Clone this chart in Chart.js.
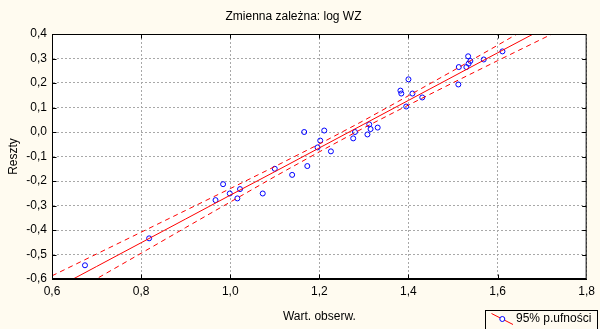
<!DOCTYPE html>
<html>
<head>
<meta charset="utf-8">
<script src="https://cdn.jsdelivr.net/npm/chart.js@4.4.1/dist/chart.umd.min.js"></script>
<style>
  html, body { margin: 0; padding: 0; background: #FFFBF0; }
  #wrap { width: 600px; height: 329px; }
</style>
</head>
<body>
<div id="wrap"><canvas id="c" width="600" height="329"></canvas></div>
<script>
// Observed values (x) and residuals (y)
const observed = [0.674, 0.818, 0.967, 0.984, 0.999, 1.016, 1.022, 1.073, 1.100, 1.139,
                  1.166, 1.173, 1.196, 1.202, 1.211, 1.226, 1.276, 1.280, 1.308, 1.312,
                  1.315, 1.331, 1.382, 1.384, 1.395, 1.400, 1.409, 1.431, 1.512, 1.513,
                  1.530, 1.534, 1.535, 1.539, 1.569, 1.611];
const residuals = [-0.544, -0.434, -0.278, -0.213, -0.251, -0.271, -0.233, -0.251, -0.150, -0.175,
                   0.000, -0.139, -0.063, -0.035, 0.006, -0.079, -0.026, 0.000, -0.010, 0.031,
                   0.012, 0.018, 0.169, 0.157, 0.104, 0.215, 0.157, 0.141, 0.194, 0.265,
                   0.265, 0.309, 0.279, 0.290, 0.296, 0.329];

// Fitted line and 95% confidence limits at sample positions
const fitX    = [0.6, 0.7, 0.8, 0.9, 1.0, 1.1, 1.2, 1.3, 1.4, 1.5, 1.6, 1.7, 1.8];
const fitLine = [-0.646, -0.549, -0.452, -0.355, -0.258, -0.162, -0.065, 0.032, 0.129, 0.226, 0.323, 0.419, 0.516];
const upper95 = [-0.587, -0.498, -0.409, -0.320, -0.231, -0.141, -0.049, 0.047, 0.148, 0.250, 0.354, 0.459, 0.564];
const lower95 = [-0.704, -0.599, -0.495, -0.390, -0.286, -0.182, -0.081, 0.017, 0.110, 0.201, 0.291, 0.380, 0.469];

// Axis ticks
const xTicks = [0.6, 0.8, 1.0, 1.2, 1.4, 1.6, 1.8];
const xTickLabels = ['0,6', '0,8', '1,0', '1,2', '1,4', '1,6', '1,8'];
const yTicks = [-0.6, -0.5, -0.4, -0.3, -0.2, -0.1, 0.0, 0.1, 0.2, 0.3, 0.4];
const yTickLabels = ['-0,6', '-0,5', '-0,4', '-0,3', '-0,2', '-0,1', '0,0', '0,1', '0,2', '0,3', '0,4'];

const titleText = 'Zmienna zależna: log WZ';
const xTitle = 'Wart. obserw.';
const yTitle = 'Reszty';
const legendText = '95% p.ufności';

const FONT = "'Liberation Sans', Arial, sans-serif";
Chart.defaults.font.family = FONT;
Chart.defaults.color = '#000';

const pts = (xs, ys) => xs.map((x, i) => ({ x: x, y: ys[i] }));

// Background: cream page, white plotting area
const backgroundPlugin = {
  id: 'bg',
  beforeDraw(chart) {
    const { ctx, chartArea: a } = chart;
    ctx.save();
    ctx.fillStyle = '#FFFBF0';
    ctx.fillRect(0, 0, chart.width, chart.height);
    ctx.fillStyle = '#FFFFFF';
    ctx.fillRect(a.left, a.top, a.right - a.left, a.bottom - a.top);
    ctx.restore();
  }
};

// Frame round the plot with short inward tick marks on all four sides
const framePlugin = {
  id: 'frame',
  afterDatasetsDraw(chart) {
    const { ctx, chartArea: a, scales } = chart;
    const L = a.left + 0.5, R = a.right - 0.5, T = a.top + 0.5, B = a.bottom - 0.5;
    ctx.save();
    ctx.strokeStyle = '#000';
    ctx.lineWidth = 1;
    ctx.beginPath();
    xTicks.forEach(v => {
      const px = Math.round(scales.x.getPixelForValue(v)) + 0.5;
      if (px <= L + 1 || px >= R - 1) return;
      ctx.moveTo(px, B); ctx.lineTo(px, B - 4);
      ctx.moveTo(px, T); ctx.lineTo(px, T + 4);
    });
    yTicks.forEach(v => {
      const py = Math.round(scales.y.getPixelForValue(v)) + 0.5;
      if (py <= T + 1 || py >= B - 1) return;
      ctx.moveTo(L, py); ctx.lineTo(L + 4, py);
      ctx.moveTo(R, py); ctx.lineTo(R - 4, py);
    });
    ctx.stroke();
    ctx.strokeRect(L, T, R - L, B - T);
    ctx.restore();
  }
};

// Legend box in the lower right corner
const legendPlugin = {
  id: 'boxLegend',
  afterDraw(chart) {
    const { ctx } = chart;
    ctx.save();
    ctx.fillStyle = '#FFFBF0';
    ctx.fillRect(485.5, 310.5, 112, 30);
    ctx.strokeStyle = '#000';
    ctx.lineWidth = 1;
    ctx.strokeRect(485.5, 310.5, 112, 30);
    ctx.strokeStyle = '#FF0000';
    ctx.beginPath();
    ctx.moveTo(491.5, 313.5);
    ctx.lineTo(513, 324.5);
    ctx.stroke();
    ctx.strokeStyle = '#0000FF';
    ctx.fillStyle = '#FFFFFF';
    ctx.beginPath();
    ctx.arc(502.3, 319, 2.5, 0, Math.PI * 2);
    ctx.fill();
    ctx.stroke();
    ctx.fillStyle = '#000';
    ctx.font = '12px ' + FONT;
    ctx.textBaseline = 'middle';
    ctx.textAlign = 'left';
    ctx.fillText(legendText, 516, 318.5);
    ctx.restore();
  }
};

const gridOpts = { color: '#A8A8A8', lineWidth: 1, drawTicks: false };

new Chart(document.getElementById('c'), {
  type: 'scatter',
  data: {
    datasets: [
      {
        type: 'line', data: pts(fitX, fitLine), borderColor: '#FF0000', borderWidth: 1,
        pointRadius: 0, tension: 0, fill: false, order: 0
      },
      {
        type: 'line', data: pts(fitX, upper95), borderColor: '#FF0000', borderWidth: 1,
        borderDash: [5, 4], pointRadius: 0, tension: 0, fill: false, order: 0
      },
      {
        type: 'line', data: pts(fitX, lower95), borderColor: '#FF0000', borderWidth: 1,
        borderDash: [5, 4], pointRadius: 0, tension: 0, fill: false, order: 0
      },
      {
        data: pts(observed, residuals), pointStyle: 'circle', pointRadius: 2.5,
        borderColor: '#0000FF', backgroundColor: 'rgba(0,0,0,0)', borderWidth: 1,
        pointHoverRadius: 2.5, order: 1
      }
    ]
  },
  options: {
    responsive: false,
    animation: false,
    devicePixelRatio: 1,
    layout: { padding: { left: 0, right: 13, top: 0, bottom: 0 } },
    plugins: {
      legend: { display: false },
      tooltip: { enabled: false },
      title: {
        display: true, text: titleText, color: '#000',
        font: { size: 12, weight: 'normal' },
        padding: { top: 9, bottom: 10.6 }
      }
    },
    scales: {
      x: {
        type: 'linear', min: 0.6, max: 1.8,
        afterBuildTicks: s => { s.ticks = xTicks.map(v => ({ value: v })); },
        afterFit: s => { s.height = 50; },
        ticks: {
          callback: (v, i) => xTickLabels[i], autoSkip: false, maxRotation: 0,
          font: { size: 12 }, color: '#000', padding: 5
        },
        grid: gridOpts,
        border: { display: true, color: '#000', width: 1, dash: [2, 2] },
        title: { display: true, text: xTitle, color: '#000', font: { size: 12 }, padding: { top: 0, bottom: 5 } }
      },
      y: {
        type: 'linear', min: -0.6, max: 0.4,
        afterBuildTicks: s => { s.ticks = yTicks.map(v => ({ value: v })); },
        afterFit: s => { s.width = 52; },
        ticks: {
          callback: (v, i) => yTickLabels[i], autoSkip: false,
          font: { size: 12 }, color: '#000', padding: 5
        },
        grid: gridOpts,
        border: { display: true, color: '#000', width: 1, dash: [2, 2] },
        title: { display: true, text: yTitle, color: '#000', font: { size: 12 }, padding: { top: 6, bottom: 0 } }
      }
    }
  },
  plugins: [backgroundPlugin, framePlugin, legendPlugin]
});
</script>
</body>
</html>
